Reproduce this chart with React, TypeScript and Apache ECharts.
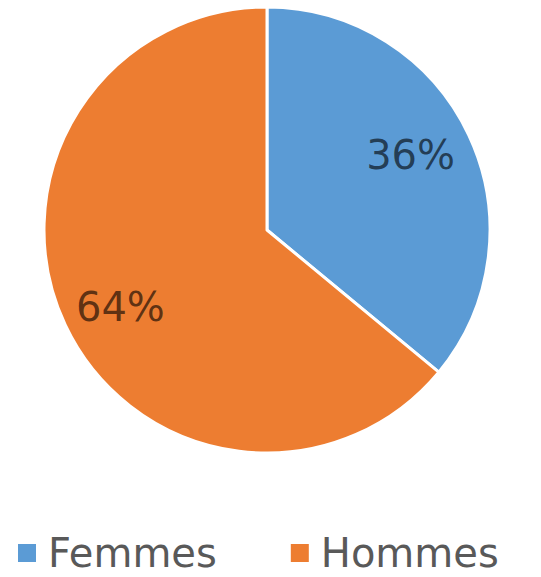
import React, { useEffect, useRef } from "react";
import * as echarts from "echarts";

const categories = ["Femmes", "Hommes"];
const values = [36, 64];
const colors = ["#5B9BD5", "#ED7D31"];
const labelOffsets: [number, number][] = [[40, -26], [-43, 28]];

export default function App() {
  const ref = useRef<HTMLDivElement>(null);
  useEffect(() => {
    document.body.style.margin = "0";
    const chart = echarts.init(ref.current!, null, { renderer: "svg" });
    chart.setOption({
      animation: false,
      backgroundColor: "#ffffff",
      legend: {
        data: categories,
        left: 16,
        top: 530,
        padding: 0,
        itemWidth: 20,
        itemHeight: 20,
        itemGap: 72,
        icon: "rect",
        textStyle: {
          fontSize: 40,
          lineHeight: 46,
          color: "#595959",
          fontFamily: "DejaVu Sans",
          padding: [0, 0, 0, 6],
        },
      },
      series: [
        {
          type: "pie",
          center: [267, 230],
          radius: [0, 223],
          startAngle: 90,
          clockwise: true,
          itemStyle: { borderColor: "#ffffff", borderWidth: 3 },
          label: {
            show: true,
            position: "inside",
            formatter: "{c}%",
            fontSize: 40,
            fontFamily: "DejaVu Sans",
            color: "rgba(0,0,0,0.62)",
          },
          labelLine: { show: false },
          data: categories.map((name, i) => ({
            name,
            value: values[i],
            itemStyle: { color: colors[i] },
            label: { offset: labelOffsets[i] },
          })),
        },
      ],
    });
    return () => chart.dispose();
  }, []);
  return <div ref={ref} style={{ width: 541, height: 577 }} />;
}
